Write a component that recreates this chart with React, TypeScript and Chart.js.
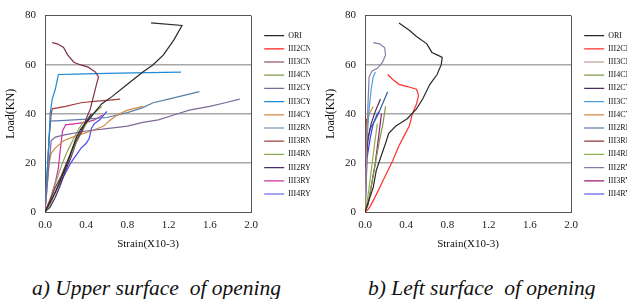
import { useEffect, useRef } from 'react';
import { Chart, registerables } from 'chart.js';

Chart.register(...registerables);

type P = [number, number];

// ---------- legend / series names ----------
const SERIES_NAMES = [
  'ORI', 'III2CN', 'III3CN', 'III4CN', 'III2CY', 'III3CY', 'III4CY',
  'III2RN', 'III3RN', 'III4RN', 'III2RY', 'III3RY', 'III4RY',
];

const COLORS_UPPER = [
  '#2a2a2a', '#ff2020', '#7e2f45', '#7f9a4a', '#7d6a9a', '#1f8ad6', '#cf8a45',
  '#5a7ea8', '#a3403c', '#8cac52', '#4a2c6e', '#cc33a0', '#4a4af0',
];
const COLORS_LEFT = [
  '#2a2a2a', '#ff3030', '#b08a80', '#7f9a4a', '#4a2c5e', '#4aa0e0', '#cf8a45',
  '#3a5e98', '#8a3a3a', '#8cb452', '#8a7aa8', '#9a1a70', '#3a3af0',
];

// ---------- axis ticks ----------
const X_MIN = 0;
const X_MAX = 2.0;
const X_STEP = 0.4;
const Y_MIN = 0;
const Y_MAX = 80;
const Y_STEP = 20;

// ---------- a) Upper surface of opening : [strain (x10-3), load (kN)] ----------
const A_ORI: P[] = [[0, 0], [0.05, 4], [0.1, 8], [0.15, 13], [0.2, 18], [0.25, 24], [0.3, 30], [0.35, 34], [0.45, 39], [0.55, 44], [0.65, 47], [0.8, 52], [0.95, 57], [1.05, 60], [1.15, 64], [1.25, 70], [1.33, 76], [1.03, 77]];
const A_III2CN: P[] = [];
const A_III3CN: P[] = [[0, 0], [0.05, 5], [0.1, 10], [0.15, 14], [0.2, 19], [0.25, 24], [0.3, 29], [0.36, 33], [0.4, 38], [0.44, 42], [0.47, 47], [0.5, 52], [0.52, 55], [0.49, 57], [0.42, 59], [0.34, 60], [0.28, 61], [0.22, 64], [0.18, 67], [0.12, 68.5], [0.07, 69]];
const A_III4CN: P[] = [[0, 0], [0.05, 3], [0.1, 8], [0.15, 13], [0.2, 18], [0.25, 23], [0.3, 28], [0.35, 32], [0.4, 36], [0.47, 40], [0.55, 43]];
const A_III2CY: P[] = [[0, 0], [0.02, 10], [0.04, 20], [0.06, 29], [0.1, 30.5], [0.2, 31.5], [0.4, 33], [0.6, 34], [0.8, 35], [0.95, 36.5], [1.1, 37.5], [1.25, 39.5], [1.4, 41.5], [1.6, 43], [1.75, 44.5], [1.89, 46]];
const A_III3CY: P[] = [[0, 0], [0.02, 15], [0.04, 30], [0.05, 40], [0.07, 46], [0.1, 50], [0.12, 54], [0.13, 56], [0.3, 56.2], [0.6, 56.5], [1.0, 56.8], [1.32, 57]];
const A_III4CY: P[] = [[0, 0], [0.02, 10], [0.04, 20], [0.06, 24], [0.1, 26], [0.18, 29], [0.3, 31], [0.45, 33], [0.57, 35], [0.62, 37], [0.7, 39.5], [0.8, 41.5], [0.95, 43]];
const A_III2RN: P[] = [[0, 0], [0.02, 15], [0.04, 30], [0.05, 37], [0.2, 37.3], [0.4, 37.8], [0.6, 38.5], [0.8, 40.5], [0.95, 42.5], [1.05, 44.5], [1.2, 46], [1.35, 47.5], [1.5, 49]];
const A_III3RN: P[] = [[0, 0], [0.02, 15], [0.04, 30], [0.06, 40], [0.07, 42], [0.2, 43], [0.35, 44.5], [0.5, 45.2], [0.6, 45.5], [0.73, 46]];
const A_III4RN: P[] = [[0, 0], [0.04, 4], [0.08, 9], [0.12, 14], [0.17, 20], [0.22, 25], [0.28, 30], [0.33, 34], [0.38, 37]];
const A_III2RY: P[] = [[0, 0], [0.05, 2], [0.1, 6], [0.15, 11], [0.2, 17], [0.25, 22], [0.3, 28], [0.35, 33], [0.4, 37], [0.45, 40]];
const A_III3RY: P[] = [[0, 0], [0.05, 5], [0.1, 12], [0.13, 18], [0.15, 26], [0.17, 33], [0.2, 35.5], [0.3, 36], [0.4, 36.5], [0.48, 37.5], [0.56, 39.5]];
const A_III4RY: P[] = [[0, 0], [0.05, 4], [0.1, 8], [0.15, 12], [0.2, 16], [0.25, 20], [0.3, 23], [0.35, 26], [0.4, 28], [0.43, 30], [0.45, 34], [0.48, 36], [0.53, 37.5], [0.6, 41]];

// ---------- b) Left surface of opening ----------
const B_ORI: P[] = [[0, 0], [0.04, 5], [0.08, 10], [0.11, 17], [0.15, 22], [0.2, 28], [0.23, 32], [0.3, 35], [0.41, 38], [0.5, 42], [0.56, 46], [0.63, 52], [0.7, 56], [0.74, 60], [0.75, 63], [0.7, 64], [0.65, 65], [0.6, 68.5], [0.5, 71.5], [0.43, 74], [0.33, 77]];
const B_III2CN: P[] = [[0, 0], [0.03, 1], [0.06, 3], [0.12, 8], [0.2, 15], [0.27, 21], [0.33, 27], [0.38, 31], [0.43, 35], [0.46, 40], [0.5, 44], [0.52, 47.5], [0.5, 50], [0.42, 51], [0.33, 52], [0.27, 54], [0.22, 56]];
const B_III3CN: P[] = [[0, 0], [0.005, 8], [0.01, 18], [0.015, 28], [0.02, 36], [0.03, 40]];
const B_III4CN: P[] = [[0, 0], [0.02, 2], [0.05, 8], [0.08, 15], [0.11, 22], [0.14, 29], [0.17, 35], [0.2, 43]];
const B_III2CY: P[] = [[0, 0], [0.01, 20], [0.03, 30], [0.06, 36], [0.1, 41], [0.15, 46]];
const B_III3CY: P[] = [[0, 0], [0.01, 15], [0.02, 30], [0.04, 42], [0.06, 50], [0.08, 55], [0.1, 57]];
const B_III4CY: P[] = [[0, 0], [0.01, 20], [0.02, 35], [0.04, 40], [0.08, 43]];
const B_III2RN: P[] = [[0, 0], [0.01, 15], [0.02, 28], [0.05, 34], [0.08, 36], [0.13, 40], [0.18, 45], [0.22, 49]];
const B_III3RN: P[] = [[0, 0], [0.005, 10], [0.01, 20], [0.012, 30], [0.015, 38]];
const B_III4RN: P[] = [[0, 0], [0.02, 4], [0.04, 10], [0.07, 20], [0.1, 30], [0.12, 36]];
const B_III2RY: P[] = [[0, 0], [0.01, 15], [0.02, 30], [0.03, 45], [0.04, 55], [0.07, 57.5], [0.12, 58.5], [0.17, 61], [0.2, 64], [0.19, 67], [0.14, 68.5], [0.08, 69]];
const B_III3RY: P[] = [[0, 0], [0.03, 3], [0.06, 10], [0.1, 20], [0.13, 30], [0.16, 40]];
const B_III4RY: P[] = [[0, 0], [0.01, 10], [0.02, 22], [0.05, 30], [0.08, 36], [0.12, 40], [0.14, 41]];

const UPPER_SERIES: P[][] = [A_ORI, A_III2CN, A_III3CN, A_III4CN, A_III2CY, A_III3CY, A_III4CY, A_III2RN, A_III3RN, A_III4RN, A_III2RY, A_III3RY, A_III4RY];
const LEFT_SERIES: P[][] = [B_ORI, B_III2CN, B_III3CN, B_III4CN, B_III2CY, B_III3CY, B_III4CY, B_III2RN, B_III3RN, B_III4RN, B_III2RY, B_III3RY, B_III4RY];

const FONT = "'Liberation Serif', 'Times New Roman', serif";

function StrainChart({ series, colors, left }: { series: P[][]; colors: string[]; left: number }) {
  const ref = useRef<HTMLCanvasElement | null>(null);
  useEffect(() => {
    if (!ref.current) return;
    const chart = new Chart(ref.current, {
      type: 'line',
      data: {
        datasets: series.map((pts, i) => ({
          label: SERIES_NAMES[i],
          data: pts.map(([x, y]) => ({ x, y })),
          borderColor: colors[i],
          backgroundColor: colors[i],
          borderWidth: 1.2,
          pointRadius: 0,
          tension: 0,
          fill: false,
        })),
      },
      options: {
        animation: false,
        responsive: false,
        maintainAspectRatio: false,
        events: [],
        layout: { padding: { left: 4, top: 3.5, right: 0, bottom: 4 } },
        plugins: {
          legend: {
            position: 'right',
            align: 'start',
            title: { display: true, text: '', font: { size: 12 }, padding: { top: 8.5, bottom: 0 } },
            labels: {
              boxWidth: 20,
              boxHeight: 0,
              padding: 5.2,
              color: '#111',
              font: { family: FONT, size: 8 },
            },
          },
          tooltip: { enabled: false },
        },
        scales: {
          x: {
            type: 'linear',
            min: X_MIN,
            max: X_MAX,
            ticks: {
              stepSize: X_STEP,
              padding: 7,
              color: '#222',
              font: { family: FONT, size: 11 },
              callback: (v: any) => Number(v).toFixed(1),
            },
            grid: {
              drawTicks: false,
              lineWidth: 1,
              color: (ctx: any) => (ctx.index === 5 ? '#555' : 'rgba(0,0,0,0)'),
            },
            border: { display: true, color: '#555', width: 1 },
            title: { display: true, text: 'Strain(X10-3)', color: '#111', font: { family: FONT, size: 11 }, padding: 0 },
            afterFit: (s: any) => { s.height = 39; },
          },
          y: {
            type: 'linear',
            min: Y_MIN,
            max: Y_MAX,
            ticks: {
              stepSize: Y_STEP,
              padding: 9,
              color: '#222',
              font: { family: FONT, size: 11 },
            },
            grid: {
              drawTicks: false,
              lineWidth: (ctx: any) => (ctx.tick && (ctx.tick.value === Y_MAX || ctx.tick.value === Y_MIN) ? 1 : 1.5),
              color: (ctx: any) => {
                const v = ctx.tick ? ctx.tick.value : -1;
                if (v === Y_MAX) return '#555';
                if (v === Y_MIN) return 'rgba(0,0,0,0)';
                return '#a8a8a8';
              },
            },
            border: { display: true, color: '#555', width: 1 },
            title: { display: true, text: 'Load(KN)', color: '#111', font: { family: FONT, size: 12 }, padding: 0 },
            afterFit: (s: any) => { s.width = 41; },
          },
          gap: {
            type: 'linear',
            position: 'right',
            display: true,
            grid: { display: false },
            ticks: { display: false },
            border: { display: false },
            afterFit: (s: any) => { s.width = 8; },
          },
        },
      } as any,
    });
    return () => chart.destroy();
  }, []);
  return (
    <canvas
      ref={ref}
      width={310}
      height={255}
      style={{ position: 'absolute', left, top: 0, width: 310, height: 255 }}
    />
  );
}

export default function App() {
  const cap: any = {
    position: 'absolute',
    top: 276,
    fontFamily: FONT,
    fontStyle: 'italic',
    fontSize: 21.5,
    whiteSpace: 'pre',
    color: '#111',
    lineHeight: '24px',
  };
  return (
    <div style={{ position: 'absolute', left: 0, top: 0, width: 627, height: 299, overflow: 'hidden', background: '#fff' }}>
      <StrainChart series={UPPER_SERIES} colors={COLORS_UPPER} left={0} />
      <StrainChart series={LEFT_SERIES} colors={COLORS_LEFT} left={320} />
      <div style={{ ...cap, left: 32 }}>a) Upper surface  of opening</div>
      <div style={{ ...cap, left: 368 }}>b) Left surface  of opening</div>
    </div>
  );
}
